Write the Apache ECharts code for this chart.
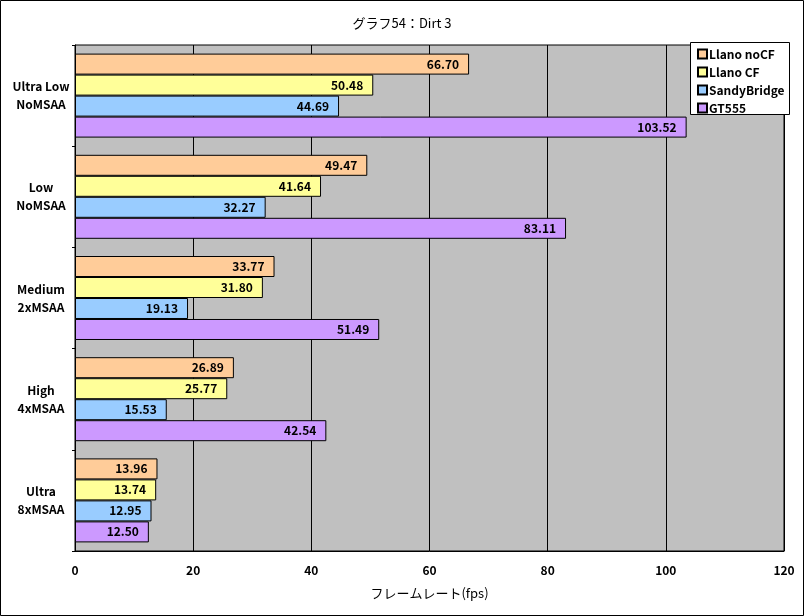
<!DOCTYPE html>
<html>
<head>
<meta charset="utf-8">
<script src="https://cdn.jsdelivr.net/npm/echarts@6/dist/echarts.min.js"></script>
<style>
  html, body { margin: 0; padding: 0; background: #fff; }
  #chart { width: 804px; height: 616px; }
</style>
</head>
<body>
<div id="chart"></div>
<script>
const categories = ['Ultra Low\nNoMSAA', 'Low\nNoMSAA', 'Medium\n2xMSAA', 'High\n4xMSAA', 'Ultra\n8xMSAA']
const seriesNames = ['Llano noCF', 'Llano CF', 'SandyBridge', 'GT555']
const llanoNoCF = [66.70, 49.47, 33.77, 26.89, 13.96]
const llanoCF = [50.48, 41.64, 31.80, 25.77, 13.74]
const sandyBridge = [44.69, 32.27, 19.13, 15.53, 12.95]
const gt555 = [103.52, 83.11, 51.49, 42.54, 12.50]
const colors = ['#FFCC99', '#FFFF99', '#99CCFF', '#CC99FF']

const fontFamily = '"Noto Sans CJK JP", "DejaVu Sans", sans-serif'
const values = [llanoNoCF, llanoCF, sandyBridge, gt555]

const chart = echarts.init(document.getElementById('chart'))
chart.setOption({
  animation: false,
  backgroundColor: '#fff',
  title: {
    text: 'グラフ54：Dirt 3',
    left: 'center',
    top: 12,
    textStyle: { fontFamily, fontSize: 13, fontWeight: 'normal', color: '#000' }
  },
  graphic: [{
    type: 'rect',
    shape: { x: 0.5, y: 0.5, width: 803, height: 615 },
    style: { fill: 'none', stroke: '#000', lineWidth: 1 },
    z: 100
  }, {
    type: 'rect',
    shape: { x: 690.5, y: 42.5, width: 99, height: 72 },
    style: { fill: '#fff', stroke: '#000', lineWidth: 1 },
    z: 50
  }],
  legend: {
    orient: 'vertical',
    left: 692,
    top: 43,
    itemGap: 6,
    itemWidth: 9,
    itemHeight: 9,
    icon: 'rect',
    z: 60,
    data: seriesNames,
    textStyle: { fontFamily, fontSize: 12, fontWeight: 'bold', color: '#000', padding: [0, 0, 0, -3] }
  },
  grid: {
    left: 75,
    right: 20,
    top: 45,
    bottom: 65,
    show: true,
    backgroundColor: '#C0C0C0',
    borderColor: '#000',
    borderWidth: 1
  },
  xAxis: {
    type: 'value',
    min: 0,
    max: 120,
    interval: 20,
    name: 'フレームレート(fps)',
    nameLocation: 'middle',
    nameGap: 36,
    nameTextStyle: { fontFamily, fontSize: 13, color: '#000' },
    axisLine: { show: true, lineStyle: { color: '#000' } },
    axisTick: { show: false },
    splitLine: { show: true, lineStyle: { color: '#000', width: 1 } },
    axisLabel: { fontFamily, fontSize: 12, fontWeight: 'bold', color: '#000', margin: 13 }
  },
  yAxis: {
    type: 'category',
    inverse: true,
    data: categories,
    axisLine: { show: true, lineStyle: { color: '#000' } },
    axisTick: { show: true, length: 3, lineStyle: { color: '#000' } },
    axisLabel: { fontFamily, fontSize: 12, fontWeight: 'bold', color: '#000', margin: 4, align: 'center', padding: [0, 0, 0, -60], lineHeight: 18 }
  },
  series: seriesNames.map((name, i) => ({
    name,
    type: 'bar',
    data: values[i],
    barGap: 0,
    barCategoryGap: '17%',
    itemStyle: { color: colors[i], borderColor: '#000', borderWidth: 1 },
    label: {
      show: true,
      position: 'insideRight',
      distance: 10,
      formatter: (p) => p.value.toFixed(2),
      fontFamily,
      fontSize: 12,
      fontWeight: 'bold',
      color: '#000'
    }
  }))
})
</script>
</body>
</html>
